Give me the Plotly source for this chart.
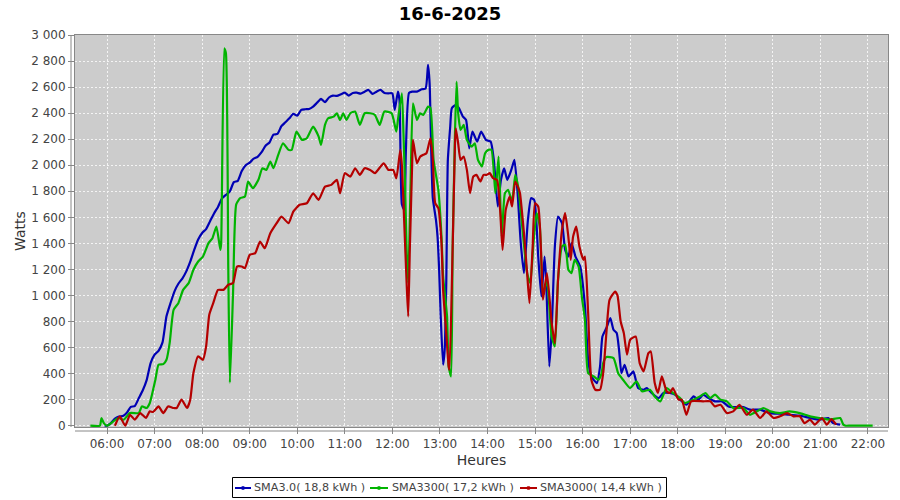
import plotly.graph_objects as go

DAY = "2025-06-16 "

# SMA3.0 (blue)
sma30_t = ["05:57","06:00","06:05","06:10","06:15","06:20","06:25","06:30","06:35","06:40","06:45","06:50","06:55",
           "07:00","07:05","07:10","07:15","07:20","07:25","07:30","07:35","07:40","07:45","07:50","07:55",
           "08:00","08:05","08:10","08:15","08:20","08:25","08:30","08:35","08:40","08:45","08:50","08:55",
           "09:00","09:05","09:10","09:15","09:20","09:25","09:30","09:35","09:40","09:45","09:50","09:55",
           "10:00","10:05","10:10","10:15","10:20","10:25","10:30","10:35","10:40","10:45","10:50","10:55",
           "11:00","11:05","11:10","11:15","11:20","11:25","11:30","11:35","11:40","11:45","11:50","11:55",
           "12:00","12:03","12:07","12:09","12:12","12:15","12:17","12:21","12:25","12:31","12:37","12:42",
           "12:45","12:47","12:49","12:51","12:55","12:57","12:59","13:01","13:04","13:06","13:08","13:10",
           "13:13","13:15","13:20","13:24","13:29","13:33","13:37","13:41","13:47","13:52","13:58",
           "14:04","14:08","14:13","14:17","14:21","14:25","14:30","14:34","14:38","14:42","14:46","14:51","14:55","14:59",
           "15:04","15:08","15:12","15:14","15:18","15:21","15:25","15:29","15:34","15:38","15:42","15:46","15:51","15:57",
           "16:03","16:07","16:11","16:18","16:22","16:25","16:30","16:35","16:39","16:43","16:46","16:49","16:53","16:58",
           "17:04","17:10","17:17","17:21","17:27","17:36","17:42","17:50","17:57",
           "18:03","18:11","18:20","18:26","18:32","18:39","18:47","18:56",
           "19:04","19:10","19:23","19:31","19:44","19:56",
           "20:09","20:21","20:34","20:47","20:59","21:10","21:16","21:25"]
sma30_w = [0,0,20,55,70,75,100,145,150,210,270,350,480,
           545,575,640,840,940,1030,1090,1130,1185,1260,1350,1430,
           1480,1510,1570,1630,1680,1745,1772,1800,1870,1880,1955,2000,
           2020,2050,2065,2100,2150,2175,2235,2240,2300,2330,2360,2395,
           2380,2425,2430,2432,2450,2480,2510,2484,2520,2535,2532,2545,
           2557,2535,2555,2557,2550,2565,2578,2547,2565,2578,2555,2552,
           2552,2425,2565,2500,1700,1657,2100,2555,2565,2565,2583,2590,
           2770,2629,2118,1750,1580,1452,1197,839,468,583,1095,2041,
           2297,2438,2463,2438,2373,2348,2130,2258,2182,2258,2195,
           2182,2041,1683,1888,1977,1888,1964,2041,1785,1402,1172,1580,1747,1734,
           1299,992,1299,1120,455,737,1376,1606,1555,1350,1299,1402,1299,1222,
           915,506,378,327,455,685,750,826,737,711,583,404,468,378,
           417,289,276,289,251,212,251,251,238,
           200,161,225,200,238,212,187,187,
           148,143,143,123,123,97,
           92,84,77,59,46,59,20,8]

# SMA3300 (green)
sma3300_t = ["05:39","05:51","05:53","05:56","06:00","06:08","06:14","06:21","06:29","06:40","06:44","06:50","06:54",
             "07:01","07:05","07:11","07:15","07:19","07:24","07:30","07:36","07:43","07:49","07:55",
             "08:01","08:08","08:13","08:18","08:23","08:24","08:28","08:30","08:33","08:35","08:39","08:43","08:48","08:54","08:58",
             "09:04","09:11","09:16","09:21","09:26","09:30","09:36","09:42","09:49","09:53","09:59",
             "10:06","10:12","10:20","10:27","10:30","10:35","10:39","10:46","10:50","10:54","10:58",
             "11:02","11:07","11:13","11:19","11:25","11:32","11:38","11:44","11:50","11:59",
             "12:05","12:07","12:12","12:14","12:16","12:18","12:20","12:23","12:26","12:31","12:35","12:39","12:45","12:48","12:52","12:58",
             "13:02","13:04","13:09","13:11","13:14","13:16","13:19","13:21","13:23","13:26","13:30","13:34","13:40","13:44","13:48","13:53","13:57",
             "14:01","14:05","14:10","14:14","14:18","14:22","14:26","14:31","14:35","14:39","14:43","14:50","14:54","14:58",
             "15:02","15:06","15:10","15:15","15:21","15:25","15:29","15:34","15:38","15:42","15:46","15:50","15:55","15:59",
             "16:03","16:07","16:14","16:20","16:24","16:26","16:30","16:39","16:45","16:51",
             "17:00","17:08","17:15","17:25","17:31","17:38","17:46","17:54",
             "18:03","18:09","18:20","18:28","18:35","18:41","18:47","18:54",
             "19:02","19:10","19:23","19:31","19:40","19:48","19:57",
             "20:09","20:21","20:34","20:47","20:59","21:12","21:25","21:29","21:32",
             "21:37","21:42","21:47","21:52","21:57","22:02","22:06"]
sma3300_w = [0,0,59,20,0,33,59,46,97,97,148,136,174,
             353,468,473,506,634,890,941,1043,1095,1197,1261,
             1299,1402,1440,1529,1350,1400,2898,2860,1200,330,1020,1700,1747,1760,1875,
             1824,1888,1977,1964,2028,1977,2080,2169,2118,2118,2258,
             2195,2207,2297,2220,2156,2310,2361,2373,2399,2348,2399,
             2348,2399,2412,2310,2399,2399,2386,2310,2412,2400,
             2258,2348,2552,2246,1850,1350,1095,1862,2476,2348,2399,2386,2450,2440,2041,1811,
             1452,1146,839,455,378,1350,2246,2642,2400,2271,2310,2195,2143,2169,2041,1990,2092,
             2118,2118,1785,2066,1452,1785,1811,1721,1926,1824,1580,1172,1095,1402,
             1632,1529,1000,1120,685,608,1120,1376,1389,1197,1172,1274,1222,992,
             813,404,378,353,404,481,527,519,400,353,
             289,340,264,276,225,187,289,251,
             212,174,200,225,251,212,238,200,
             187,136,136,84,110,136,110,
             97,110,97,72,59,46,59,8,0,
             0,0,0,0,0,0,0]

# SMA3000 (red)
sma3000_t = ["06:10","06:16","06:23","06:29","06:35","06:42","06:49","06:54","06:58",
             "07:05","07:11","07:17","07:24","07:28","07:34","07:41","07:45","07:49","07:55",
             "08:01","08:05","08:09","08:14","08:20","08:27","08:33","08:39","08:44","08:50","08:54",
             "09:00","09:07","09:13","09:19","09:26","09:34","09:40","09:49","09:55",
             "10:03","10:12","10:20","10:27","10:35","10:43","10:50","10:54",
             "11:00","11:07","11:13","11:19","11:25","11:32","11:38","11:49","11:55",
             "12:01","12:05","12:10","12:12","12:15","12:18","12:20","12:22","12:25","12:26","12:31","12:35","12:39","12:43","12:48","12:51","12:54","12:58",
             "13:02","13:04","13:08","13:11","13:12","13:16","13:19","13:20","13:23","13:26","13:30","13:34","13:38","13:42","13:46","13:51","13:55","13:59",
             "14:03","14:07","14:12","14:16","14:19","14:23","14:28","14:31","14:35","14:39","14:41","14:46","14:50","14:53","14:57",
             "15:00","15:04","15:08","15:10","15:15","15:21","15:25","15:29","15:34","15:38","15:42","15:45","15:48","15:52","15:56",
             "16:01","16:03","16:07","16:11","16:16","16:22","16:26","16:30","16:34","16:41","16:44","16:48","16:52","16:56",
             "17:00","17:07","17:12","17:17","17:23","17:26","17:31","17:35","17:40","17:46","17:50","17:54",
             "18:01","18:05","18:11","18:17","18:32","18:41","18:47","18:54",
             "19:02","19:10","19:18","19:27","19:35","19:44","19:52",
             "20:01","20:09","20:18","20:26","20:34","20:40","20:47","20:53",
             "21:02","21:08","21:14","21:20"]
sma3000_w = [0,71,0,84,46,97,59,110,105,
             148,97,148,136,136,200,136,200,404,532,
             506,608,852,941,1043,1043,1082,1095,1222,1222,1210,
             1312,1325,1414,1363,1478,1555,1606,1555,1644,
             1696,1708,1785,1734,1836,1849,1888,1785,
             1939,1913,1977,1926,1977,1964,1939,2015,1964,
             1964,1900,2118,2000,1555,1095,839,1350,2015,2195,2015,2066,2080,2092,2207,2050,1709,1670,
             1400,1043,711,455,430,1350,2169,2284,2169,2041,2066,1964,1785,1913,1926,1875,1926,1926,
             1939,1900,1888,1650,1350,1657,1760,1683,1875,1824,1785,1478,1172,941,1376,
             1709,1683,1274,967,1172,788,634,1120,1504,1632,1452,1274,1452,1529,1376,
             1274,1299,864,353,276,276,404,711,967,1030,1000,800,711,545,
             660,685,481,417,557,570,327,251,378,264,251,289,
             200,200,84,187,187,187,148,161,
             97,110,161,84,123,59,110,
             59,72,97,72,72,20,46,8,
             59,8,51,8]

legend_labels = ["SMA3.0( 18,8 kWh )", "SMA3300( 17,2 kWh )", "SMA3000( 14,4 kWh )"]
colors = ["#0000b4", "#00b400", "#b40000"]
series = [(sma30_t, sma30_w), (sma3300_t, sma3300_w), (sma3000_t, sma3000_w)]

# layout geometry (pixels)
W, H = 900, 500
ML, MR, MT, MB = 75, 12, 35, 73
PW, PH = W - ML - MR, H - MT - MB


def px_x(p):
    return (p - ML) / PW


def px_y(p):
    return (H - MB - p) / PH


fig = go.Figure()
for (t, w), name, c in zip(series, legend_labels, colors):
    fig.add_trace(go.Scatter(
        x=[DAY + s for s in t], y=w, name=name, mode="lines",
        line=dict(color=c, width=2.2, shape="spline", smoothing=0.5),
        showlegend=False,
    ))

font_family = "DejaVu Sans, Verdana, sans-serif"

shapes = []
annotations = []
# offset axis lines (JFreeChart style)
shapes.append(dict(type="line", xref="paper", yref="paper", x0=px_x(71), x1=px_x(71),
                   y0=0, y1=1, line=dict(color="#888888", width=1)))
shapes.append(dict(type="line", xref="paper", yref="paper", x0=0, x1=1,
                   y0=px_y(431), y1=px_y(431), line=dict(color="#888888", width=1)))
# custom legend box
shapes.append(dict(type="rect", xref="paper", yref="paper", x0=px_x(232.5), x1=px_x(666.5),
                   y0=px_y(477.5), y1=px_y(497.5), line=dict(color="#000000", width=1),
                   fillcolor="white", layer="above"))
leg_sym = [(235, 251), (370, 388), (520, 537)]
leg_txt = [252, 390, 538]
for (a, b), tx, lab, c in zip(leg_sym, leg_txt, legend_labels, colors):
    shapes.append(dict(type="line", xref="paper", yref="paper", x0=px_x(a), x1=px_x(b),
                       y0=px_y(488), y1=px_y(488), line=dict(color=c, width=2), layer="above"))
    shapes.append(dict(type="rect", xref="paper", yref="paper",
                       x0=px_x((a + b) / 2 - 1.2), x1=px_x((a + b) / 2 + 1.2),
                       y0=px_y(489.2), y1=px_y(486.8), line=dict(color=c, width=1),
                       fillcolor=c, layer="above"))
    annotations.append(dict(text=lab, xref="paper", yref="paper", x=px_x(tx), y=px_y(488),
                            xanchor="left", yanchor="middle", showarrow=False,
                            font=dict(size=11.2, color="#444444", family=font_family)))

fig.update_layout(
    width=W, height=H,
    margin=dict(l=ML, r=MR, t=MT, b=MB, autoexpand=False),
    paper_bgcolor="white", plot_bgcolor="#cccccc",
    separators=", ",
    font=dict(family=font_family, size=12, color="#444444"),
    title=dict(text="<b>16-6-2025</b>", x=0.5, xanchor="center", y=0.972, yanchor="middle",
               font=dict(size=18, color="#000000", family=font_family)),
    showlegend=False,
    shapes=shapes,
    annotations=annotations,
)
fig.update_xaxes(
    type="date", automargin=False,
    range=[DAY + "05:19:36", DAY + "22:25:18"],
    dtick=3600000, tick0=DAY + "06:00", tickformat="%H:%M",
    showgrid=True, gridcolor="#f4f4f4", griddash="2px,2px", gridwidth=1,
    showline=True, linecolor="#888888", mirror=True,
    ticks="outside", ticklen=6, tickcolor="#888888",
    tickfont=dict(size=12, color="#444444"),
    title=dict(text="Heures", font=dict(size=14, color="#333333"), standoff=4),
    zeroline=False,
)
fig.update_yaxes(
    automargin=False,
    range=[-10, 3000], dtick=200, tick0=0,
    separatethousands=True,
    showgrid=True, gridcolor="#f4f4f4", griddash="2px,2px", gridwidth=1,
    showline=True, linecolor="#888888", mirror=True,
    ticks="outside", ticklen=6, tickcolor="#888888",
    tickfont=dict(size=12, color="#444444"),
    title=dict(text="Watts", font=dict(size=14, color="#333333"), standoff=2),
    zeroline=False,
)

fig.write_html("out.html", config={"displayModeBar": False},
               post_script="document.body.style.margin='0';document.body.style.overflow='hidden';")
